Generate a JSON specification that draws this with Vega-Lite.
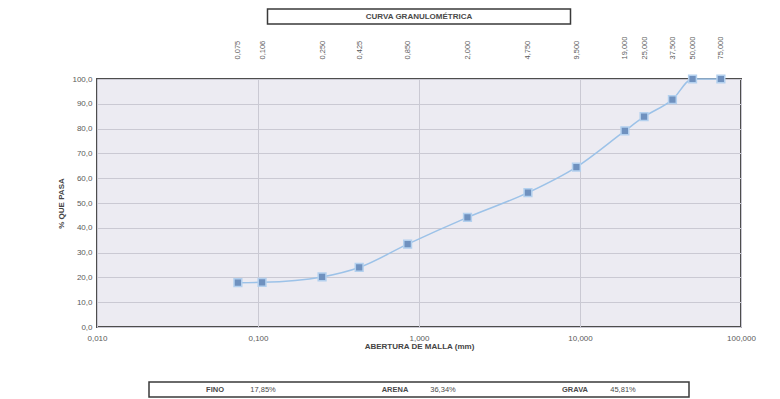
{
  "$schema": "https://vega.github.io/schema/vega-lite/v6.json",
  "background": "white",
  "autosize": {"type": "pad"},
  "padding": {"left": 56, "top": 8, "right": 26, "bottom": 3},
  "config": {
    "font": "Liberation Sans",
    "axis": {
      "labelFont": "Liberation Sans",
      "titleFont": "Liberation Sans",
      "labelColor": "#5a5a5a",
      "labelFontSize": 8,
      "titleFontSize": 8,
      "titleColor": "#444444",
      "titleFontWeight": "bold",
      "ticks": false,
      "domain": false,
      "gridColor": "#cac9d3",
      "gridWidth": 1,
      "labelFlush": false,
      "labelOverlap": false
    }
  },
  "datasets": {
    "curva": [
      {"abertura": 0.075, "pasa": 17.85},
      {"abertura": 0.106, "pasa": 18.0},
      {"abertura": 0.25, "pasa": 20.2},
      {"abertura": 0.425, "pasa": 24.0},
      {"abertura": 0.85, "pasa": 33.4},
      {"abertura": 2.0, "pasa": 44.2},
      {"abertura": 4.75, "pasa": 54.19},
      {"abertura": 9.5, "pasa": 64.5},
      {"abertura": 19.0, "pasa": 79.1},
      {"abertura": 25.0, "pasa": 84.8},
      {"abertura": 37.5, "pasa": 91.7},
      {"abertura": 50.0, "pasa": 100.0},
      {"abertura": 75.0, "pasa": 100.0}
    ],
    "resumen": [
      {"grupo": "FINO", "valor": "17,85%"},
      {"grupo": "ARENA", "valor": "36,34%"},
      {"grupo": "GRAVA", "valor": "45,81%"}
    ]
  },
  "spacing": 55,
  "bounds": "flush",
  "center": true,
  "vconcat": [
    {
      "width": 303,
      "height": 15,
      "view": {"stroke": "#3a3a3a", "strokeWidth": 1.5, "fill": "white"},
      "data": {"values": [{"titulo": "CURVA GRANULOMÉTRICA"}]},
      "mark": {"type": "text", "fontSize": 8, "fontWeight": "bold", "color": "#4a4a4a"},
      "encoding": {"text": {"field": "titulo", "type": "nominal"}}
    },
    {
      "width": 644,
      "height": 248,
      "view": {"fill": "#ecebf2", "stroke": "#4d4d4d", "strokeWidth": 2},
      "data": {"name": "curva"},
      "layer": [
        {
          "mark": {"type": "line", "interpolate": "monotone", "color": "#9cc2e8", "strokeWidth": 1.5},
          "encoding": {
            "x": {
              "field": "abertura",
              "type": "quantitative",
              "scale": {"type": "log", "domain": [0.01, 100], "nice": false},
              "axis": {
                "orient": "bottom",
                "values": [0.01, 0.1, 1, 10, 100],
                "labelExpr": "replace(format(datum.value, '.3f'), '.', ',')",
                "title": "ABERTURA DE MALLA (mm)",
                "grid": true,
                "labelPadding": 7,
                "titlePadding": 0
              }
            },
            "y": {
              "field": "pasa",
              "type": "quantitative",
              "scale": {"domain": [0, 100], "nice": false},
              "axis": {
                "values": [0, 10, 20, 30, 40, 50, 60, 70, 80, 90, 100],
                "labelExpr": "replace(format(datum.value, '.1f'), '.', ',')",
                "title": "% QUE PASA",
                "grid": true,
                "labelPadding": 5,
                "titlePadding": 6
              }
            }
          }
        },
        {
          "mark": {"type": "point", "shape": "square", "filled": true, "size": 60, "color": "#6f91bf", "stroke": "#b3d0ee", "strokeWidth": 1.5, "opacity": 1},
          "encoding": {
            "x": {
              "field": "abertura",
              "type": "quantitative",
              "scale": {"type": "log", "domain": [0.01, 100], "nice": false},
              "axis": {
                "orient": "top",
                "values": [0.075, 0.106, 0.25, 0.425, 0.85, 2, 4.75, 9.5, 19, 25, 37.5, 50, 75],
                "labelExpr": "replace(format(datum.value, '.3f'), '.', ',')",
                "labelAngle": -90,
                "labelFontSize": 7.5,
                "labelPadding": 20,
                "grid": false,
                "title": null
              }
            },
            "y": {
              "field": "pasa",
              "type": "quantitative",
              "scale": {"domain": [0, 100], "nice": false},
              "axis": {
                "values": [0, 10, 20, 30, 40, 50, 60, 70, 80, 90, 100],
                "labelExpr": "replace(format(datum.value, '.1f'), '.', ',')",
                "title": "% QUE PASA",
                "grid": true,
                "labelPadding": 5,
                "titlePadding": 6
              }
            }
          }
        }
      ],
      "resolve": {"axis": {"x": "independent"}}
    },
    {
      "width": 540,
      "height": 15,
      "view": {"stroke": "#3a3a3a", "strokeWidth": 1.5, "fill": "white"},
      "data": {"name": "resumen"},
      "encoding": {
        "x": {"field": "grupo", "type": "nominal", "sort": null, "axis": null}
      },
      "layer": [
        {
          "mark": {"type": "text", "dx": -24, "fontSize": 7.5, "fontWeight": "bold", "color": "#4a4a4a"},
          "encoding": {"text": {"field": "grupo", "type": "nominal"}}
        },
        {
          "mark": {"type": "text", "dx": 24, "fontSize": 7.5, "color": "#4a4a4a"},
          "encoding": {"text": {"field": "valor", "type": "nominal"}}
        }
      ]
    }
  ]
}
